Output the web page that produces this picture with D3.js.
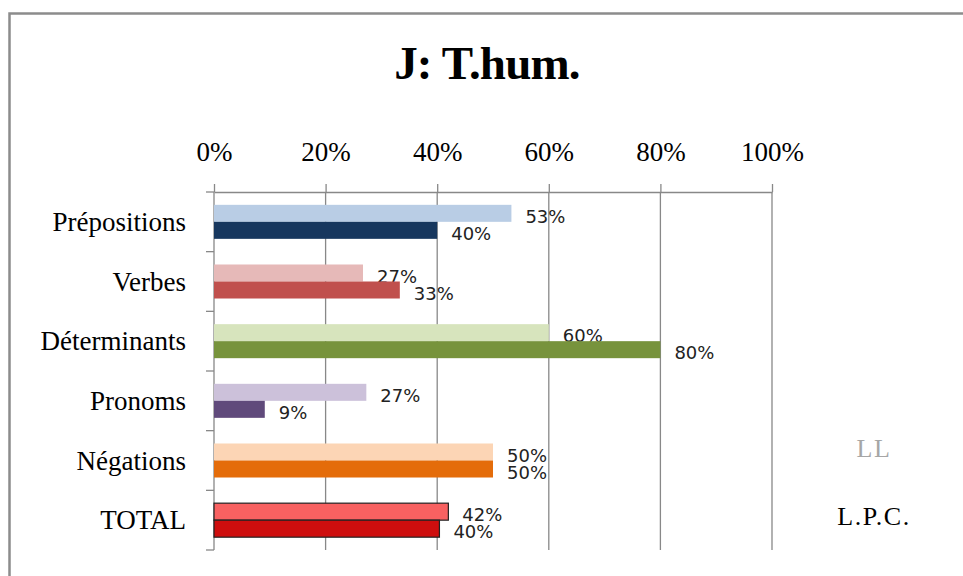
<!DOCTYPE html>
<html>
<head>
<meta charset="utf-8">
<script src="https://cdn.jsdelivr.net/npm/d3@7"></script>
<style>
  html, body { margin: 0; padding: 0; background: #fff; }
  svg { display: block; }
</style>
</head>
<body>
<div id="chart"><svg width="963" height="576"></svg></div>
<script>
const categories = ["Prépositions", "Verbes", "Déterminants", "Pronoms", "Négations", "TOTAL"];
const llValues = [0.533, 0.267, 0.60, 0.273, 0.50, 0.42];
const lpcValues = [0.40, 0.333, 0.80, 0.091, 0.50, 0.404];
const lightColors = ["#B9CDE5", "#E6B9B8", "#D7E4BD", "#CCC1DA", "#FCD5B5", "#F86161"];
const darkColors = ["#17375E", "#C0504D", "#77933C", "#604A7B", "#E46C0A", "#CE0E0E"];
const tickValues = [0, 0.2, 0.4, 0.6, 0.8, 1];
const seriesNames = ["LL", "L.P.C."];

const svg = d3.select("#chart svg");
const width = parseInt(svg.attr("width"));
const height = parseInt(svg.attr("height"));

const plotLeft = 214, plotRight = 772, plotTop = 192, plotBottom = 550;
const serif = "'Liberation Serif', 'Times New Roman', serif";

// cadre
svg.append("rect")
    .attr("x", 9.5)
    .attr("y", 13.5)
    .attr("width", width + 20)
    .attr("height", height + 20)
    .attr("fill", "none")
    .attr("stroke", "#8c8c8c")
    .attr("stroke-width", 2.5);

// titre
svg.append("text")
    .attr("x", 487)
    .attr("y", 79)
    .attr("text-anchor", "middle")
    .attr("font-family", serif)
    .attr("font-weight", "bold")
    .attr("font-size", "47px")
    .attr("letter-spacing", "-0.8px")
    .text("J: T.hum.");

const x = d3.scaleLinear().domain([0, 1]).range([plotLeft, plotRight]);
const y = d3.scaleBand().domain(categories).range([plotTop, plotBottom]).paddingInner(0.43).paddingOuter(0.215);
const ySub = d3.scaleBand().domain([0, 1]).range([0, y.bandwidth()]);

// grille verticale
svg.append("g")
    .selectAll("line")
    .data(tickValues.slice(1))
    .join("line")
    .attr("x1", d => x(d))
    .attr("x2", d => x(d))
    .attr("y1", plotTop)
    .attr("y2", plotBottom)
    .attr("stroke", "#888")
    .attr("stroke-width", 1.3);

// axe du haut
const xAxis = svg.append("g")
    .attr("transform", `translate(0,${plotTop})`)
    .call(d3.axisTop(x).tickValues(tickValues).tickSize(8).tickSizeOuter(0).tickFormat(d3.format(".0%")));
xAxis.select(".domain").attr("stroke", "#888").attr("stroke-width", 1.3);
xAxis.selectAll(".tick line").attr("stroke", "#888").attr("stroke-width", 1.3);
xAxis.selectAll(".tick text")
    .attr("y", -31)
    .attr("dy", 0)
    .attr("font-family", serif)
    .attr("font-size", "27px")
    .attr("fill", "#000");

// axe de gauche
const step = y.step();
const boundaries = d3.range(categories.length + 1).map(i => plotTop + i * step);
svg.append("line")
    .attr("x1", plotLeft).attr("x2", plotLeft)
    .attr("y1", plotTop).attr("y2", plotBottom)
    .attr("stroke", "#888").attr("stroke-width", 1.3);
svg.append("g")
    .selectAll("line")
    .data(boundaries)
    .join("line")
    .attr("x1", plotLeft - 8).attr("x2", plotLeft)
    .attr("y1", d => d).attr("y2", d => d)
    .attr("stroke", "#888").attr("stroke-width", 1.3);

svg.append("g")
    .selectAll("text")
    .data(categories)
    .join("text")
    .attr("x", 186)
    .attr("y", d => y(d) + y.bandwidth() / 2 + 9)
    .attr("text-anchor", "end")
    .attr("font-family", serif)
    .attr("font-size", "27px")
    .attr("fill", "#000")
    .text(d => d);

const fmt = d3.format(".0%");

function drawSeries(values, colors, idx) {
    svg.append("g")
        .selectAll("rect")
        .data(values)
        .join("rect")
        .attr("x", plotLeft)
        .attr("y", (d, i) => y(categories[i]) + ySub(idx))
        .attr("width", d => x(d) - plotLeft)
        .attr("height", ySub.bandwidth())
        .attr("fill", (d, i) => colors[i])
        .attr("stroke", (d, i) => categories[i] === "TOTAL" ? "#222" : "none")
        .attr("stroke-width", 1.2);

    svg.append("g")
        .selectAll("text")
        .data(values)
        .join("text")
        .attr("x", d => x(d) + 14)
        .attr("y", (d, i) => y(categories[i]) + ySub(idx) + ySub.bandwidth() + 1)
        .attr("font-family", "'DejaVu Sans', Verdana, sans-serif")
        .attr("font-size", "18px")
        .attr("fill", "#222")
        .text(d => fmt(d));
}

drawSeries(llValues, lightColors, 0);
drawSeries(lpcValues, darkColors, 1);

// légende
svg.append("text")
    .attr("x", 874).attr("y", 457)
    .attr("text-anchor", "middle")
    .attr("font-family", serif)
    .attr("font-size", "26px")
    .attr("letter-spacing", "1.5px")
    .attr("fill", "#A6A6A6")
    .text(seriesNames[0]);
svg.append("text")
    .attr("x", 874).attr("y", 525)
    .attr("text-anchor", "middle")
    .attr("font-family", serif)
    .attr("font-size", "26px")
    .attr("letter-spacing", "1.5px")
    .attr("fill", "#000")
    .text(seriesNames[1]);
</script>
</body>
</html>
